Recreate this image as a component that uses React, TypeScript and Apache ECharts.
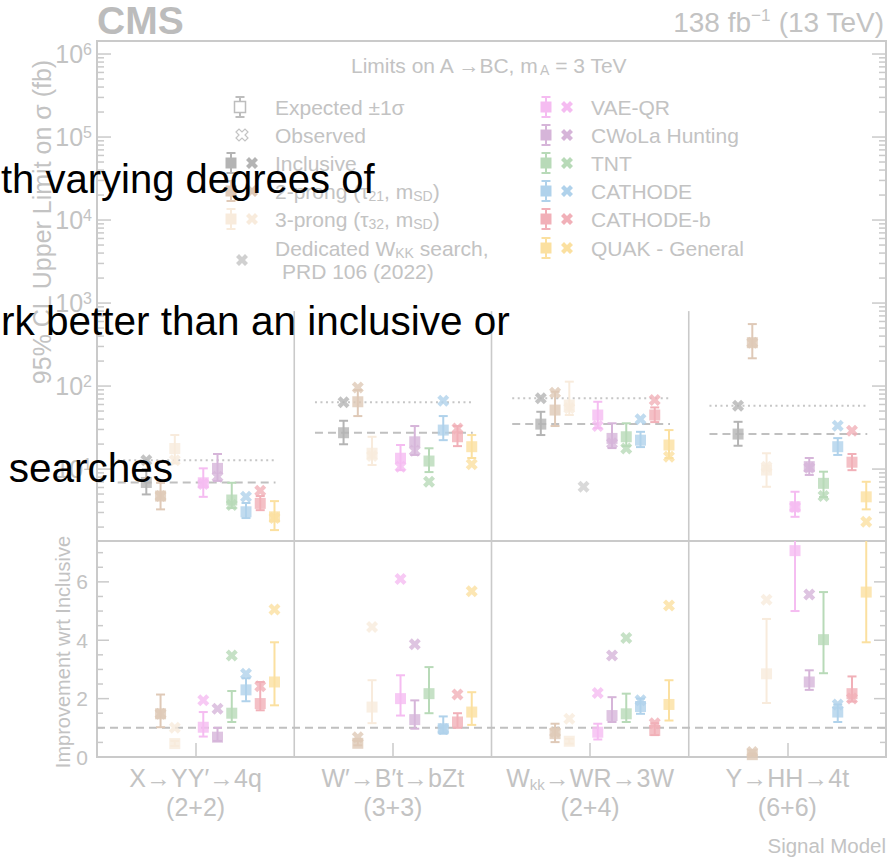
import { useEffect, useRef } from 'react';
import * as echarts from 'echarts';

const FONT = '"Liberation Sans", Arial, Helvetica, sans-serif';
const INK = '#c3c3c3';
const FRAME = '#cacaca';
const CMS_INK = '#bcbcbc';

const MODEL_LABELS = ['X→YY′→4q', 'W′→B′t→bZt', 'W_{kk}→WR→3W', 'Y→HH→4t'];
const MODEL_TOPOLOGY = ['(2+2)', '(3+3)', '(2+4)', '(6+6)'];

const METHOD_LABELS = [
  'Inclusive',
  '2-prong (τ_{21}, m_{SD})',
  '3-prong (τ_{32}, m_{SD})',
  'Dedicated W_{KK} search,',
  'VAE-QR',
  'CWoLa Hunting',
  'TNT',
  'CATHODE',
  'CATHODE-b',
  'QUAK - General',
];
const METHOD_COLORS = ['#b4b4b4', '#dfc9b7', '#f8ebdc', '#d0d0d0', '#f5bcf1', '#d6b5d9', '#b8dab8', '#b0d2eb', '#f1b0b8', '#fbe0a0'];

const _ = null;

// 95% CL upper limits on sigma (fb); rows follow METHOD_LABELS, columns MODEL_LABELS
const expectedLimit = [
  [6.9, 27.4, 34.8, 26.4],
  [4.73, 64.7, 51.4, 333],
  [17.7, 15.5, 59, 9.73],
  [_, _, _, _],
  [6.84, 13.5, 44.8, 3.52],
  [10.2, 21.3, 23.4, 10.7],
  [4.24, 12.5, 24.5, 6.73],
  [3.06, 29.5, 22.3, 18.6],
  [3.86, 24.5, 44.8, 12.1],
  [2.66, 18.6, 19.5, 4.63],
];
const expectedLimitLow = [
  [4.95, 19.9, 25.7, 19.1],
  [3.27, 43.5, 33, 216],
  [11.7, 11.2, 44.8, 6.12],
  [_, _, _, _],
  [4.63, 9.7, 31.2, 2.66],
  [7.2, 14.8, 17.9, 8.5],
  [3.39, 9.2, 18.9, 4.6],
  [2.57, 22.3, 18.4, 14.8],
  [3.2, 18.9, 36.8, 9.7],
  [1.84, 13.6, 13.6, 3.27],
];
const expectedLimitHigh = [
  [10.0, 38.2, 49, 37.1],
  [6.84, 89.5, 85.3, 558],
  [25.7, 24.5, 113, 15.5],
  [_, _, _, _],
  [10.2, 19.5, 64.7, 5.33],
  [15.2, 33, 35.6, 13.6],
  [6.84, 17.8, 35.6, 9.3],
  [3.9, 43.5, 28.1, 23.6],
  [4.73, 33, 55.3, 15.2],
  [4.11, 25.7, 29.5, 7.03],
];
const observedLimit = [
  [12.8, 63.7, 71.1, 57.9],
  [4.73, 96.4, 83, 333],
  [12.8, 14.4, 54, 10.7],
  [_, _, 6.12, _],
  [6.6, 10.7, 33, 3.5],
  [8.07, 16.6, 20.4, 10.4],
  [3.68, 7.03, 17.7, 4.73],
  [4.63, 66.5, 39.7, 33.3],
  [5.48, 30.9, 67.8, 28.9],
  [2.57, 11.4, 14.1, 2.32],
];

// Improvement with respect to the inclusive search
const expectedGain = [
  [_, _, _, _],
  [1.48, 0.47, 0.8, 0.08],
  [0.46, 1.71, 0.54, 2.85],
  [_, _, _, _],
  [1.02, 2.0, 0.85, 7.07],
  [0.68, 1.28, 1.42, 2.57],
  [1.5, 2.17, 1.48, 4.02],
  [2.3, 0.97, 1.73, 1.54],
  [1.83, 1.2, 0.91, 2.17],
  [2.57, 1.54, 1.8, 5.65],
];
const expectedGainLow = [
  [_, _, _, _],
  [1.02, 0.4, 0.51, 0.05],
  [0.38, 1.16, 0.46, 1.85],
  [_, _, _, _],
  [0.7, 1.42, 0.6, 5.0],
  [0.55, 0.97, 1.2, 2.3],
  [1.2, 1.5, 1.2, 2.87],
  [1.91, 0.8, 1.48, 1.2],
  [1.6, 1.0, 0.75, 1.9],
  [1.77, 1.1, 1.25, 3.93],
];
const expectedGainHigh = [
  [_, _, _, _],
  [2.14, 0.55, 1.14, 0.12],
  [0.55, 2.63, 0.62, 4.73],
  [_, _, _, _],
  [1.54, 2.8, 1.14, 8.5],
  [1.0, 1.94, 2.05, 2.97],
  [2.26, 3.08, 2.17, 5.65],
  [2.7, 1.39, 2.0, 1.8],
  [2.57, 1.5, 1.16, 2.76],
  [3.93, 2.22, 2.63, 8.5],
];
const observedGain = [
  [_, _, _, _],
  [1.48, 0.68, 0.86, 0.17],
  [1.0, 4.45, 1.31, 5.39],
  [_, _, _, _],
  [1.94, 6.1, 2.19, _],
  [1.65, 3.86, 3.48, 5.57],
  [3.48, _, 4.08, _],
  [2.85, 0.96, 1.94, 1.8],
  [2.42, 2.14, 1.16, 2.0],
  [5.05, 5.68, 5.19, _],
];

// axis extents
const LIMIT_MIN = 1.36;
const LIMIT_MAX = 1.435e6;
const GAIN_MAX = 7.4;
const SEPARATOR_TOP = 800;

// horizontal placement of the ten methods inside each signal-model bin
const SLOT_START = 0.25;
const SLOT_STEP = 0.0722;
const LINE_SPAN = [0.105, 0.905];

const CROSS_PTS = [[0, 2.5], [2.5, 0], [5, 2.5], [7.5, 0], [10, 2.5], [7.5, 5], [10, 7.5], [7.5, 10], [5, 7.5], [2.5, 10], [0, 7.5], [2.5, 5]];
const CROSS_SYMBOL = 'path://' + CROSS_PTS.map((p, i) => (i ? 'L' : 'M') + p[0] + ',' + p[1]).join('') + 'Z';

function toRich(s: string, main: string, sub: string, sup: string): string {
  const out: string[] = [];
  const re = /([_^])\{([^}]*)\}/g;
  let last = 0;
  let m: RegExpExecArray | null;
  while ((m = re.exec(s))) {
    if (m.index > last) out.push(`{${main}|${s.slice(last, m.index)}}`);
    out.push(`{${m[1] === '_' ? sub : sup}|${m[2]}}`);
    last = re.lastIndex;
  }
  if (last < s.length) out.push(`{${main}|${s.slice(last)}}`);
  return out.join('');
}

const slotX = (g: number, k: number) => g + SLOT_START + SLOT_STEP * k;

function tickItem(params: any, api: any) {
  const cs = params.coordSys;
  const y = api.coord([0, api.value(1)])[1];
  const len = api.value(2);
  const style = { stroke: FRAME, lineWidth: 1.5 };
  return {
    type: 'group',
    children: [
      { type: 'line', shape: { x1: cs.x, y1: y, x2: cs.x + len, y2: y }, style },
      { type: 'line', shape: { x1: cs.x + cs.width - len, y1: y, x2: cs.x + cs.width, y2: y }, style },
    ],
  };
}

function separatorItem(params: any, api: any) {
  const cs = params.coordSys;
  const top = api.coord([api.value(0), api.value(1)]);
  return {
    type: 'line',
    shape: { x1: top[0], y1: cs.y + cs.height, x2: top[0], y2: Math.max(cs.y, top[1]) },
    style: { stroke: FRAME, lineWidth: 1.6 },
  };
}

function refLineItem(params: any, api: any) {
  const a = api.coord([api.value(0), api.value(2)]);
  const b = api.coord([api.value(1), api.value(2)]);
  const dotted = api.value(3) === 1;
  return {
    type: 'line',
    shape: { x1: a[0], y1: a[1], x2: b[0], y2: b[1] },
    style: { stroke: dotted ? '#c6c6c6' : '#c0c0c0', lineWidth: 2, lineDash: dotted ? [2, 3.5] : [8, 5] },
  };
}

function errorBarItem(params: any, api: any) {
  const x = api.value(0);
  const lo = api.coord([x, api.value(1)]);
  const hi = api.coord([x, api.value(2)]);
  const color = METHOD_COLORS[api.value(3)];
  const w = 4.5;
  const style = { stroke: color, lineWidth: 2 };
  return {
    type: 'group',
    children: [
      { type: 'line', shape: { x1: lo[0], y1: lo[1], x2: hi[0], y2: hi[1] }, style },
      { type: 'line', shape: { x1: lo[0] - w, y1: lo[1], x2: lo[0] + w, y2: lo[1] }, style },
      { type: 'line', shape: { x1: hi[0] - w, y1: hi[1], x2: hi[0] + w, y2: hi[1] }, style },
    ],
  };
}

function panelSeries(
  xAxisIndex: number,
  yAxisIndex: number,
  exp: (number | null)[][],
  lo: (number | null)[][],
  hi: (number | null)[][],
  obs: (number | null)[][],
) {
  const bars: number[][] = [];
  const squares: any[] = [];
  const crosses: any[] = [];
  for (let k = 0; k < METHOD_LABELS.length; k++) {
    for (let g = 0; g < MODEL_LABELS.length; g++) {
      const x = slotX(g, k);
      const e = exp[k][g];
      if (e != null) {
        const l = lo[k][g];
        const h = hi[k][g];
        if (l != null && h != null) bars.push([x, l, h, k]);
        squares.push({ value: [x, e], itemStyle: { color: METHOD_COLORS[k] } });
      }
      const o = obs[k][g];
      if (o != null) crosses.push({ value: [x, o], itemStyle: { color: METHOD_COLORS[k] } });
    }
  }
  return [
    {
      type: 'custom', xAxisIndex, yAxisIndex, clip: true, z: 3, silent: true,
      renderItem: errorBarItem, encode: { x: 0, y: [1, 2] }, data: bars,
    },
    {
      type: 'scatter', xAxisIndex, yAxisIndex, z: 4, silent: true, clip: true,
      symbol: 'rect', symbolSize: 11, data: squares,
    },
    {
      type: 'scatter', xAxisIndex, yAxisIndex, z: 5, silent: true, clip: true,
      symbol: CROSS_SYMBOL, symbolSize: 12, data: crosses,
    },
  ];
}

function legendSquare(x: number, y: number, color: string, filled: boolean): any[] {
  const s = { stroke: color, lineWidth: 2 };
  return [
    { type: 'line', shape: { x1: x, y1: y - 10, x2: x, y2: y + 10 }, style: s },
    { type: 'line', shape: { x1: x - 4.5, y1: y - 10, x2: x + 4.5, y2: y - 10 }, style: s },
    { type: 'line', shape: { x1: x - 4.5, y1: y + 10, x2: x + 4.5, y2: y + 10 }, style: s },
    {
      type: 'rect',
      shape: { x: x - 5.5, y: y - 5.5, width: 11, height: 11 },
      style: filled ? { fill: color } : { fill: '#ffffff', stroke: color, lineWidth: 1.5 },
    },
  ];
}

function legendCross(x: number, y: number, color: string, filled: boolean): any {
  const size = 12;
  const points = CROSS_PTS.map(([px, py]) => [x - size / 2 + (px * size) / 10, y - size / 2 + (py * size) / 10]);
  return {
    type: 'polygon',
    shape: { points },
    style: filled ? { fill: color } : { fill: '#ffffff', stroke: color, lineWidth: 1.2 },
  };
}

const LEGEND_RICH = {
  n: { fontSize: 21, lineHeight: 24, fontFamily: FONT, fill: INK },
  s: { fontSize: 14, lineHeight: 14, fontFamily: FONT, fill: INK, verticalAlign: 'bottom' },
  p: { fontSize: 14, lineHeight: 14, fontFamily: FONT, fill: INK, verticalAlign: 'top' },
};

function legendText(x: number, y: number, label: string): any {
  return {
    type: 'text', x, y,
    style: { text: toRich(label, 'n', 's', 'p'), rich: LEGEND_RICH, align: 'left', verticalAlign: 'middle' },
  };
}

function buildOption(): any {
  const upperTicks: number[][] = [];
  for (let e = 0; e <= 6; e++) {
    for (let m = 1; m <= 9; m++) {
      const v = m * Math.pow(10, e);
      if (v >= LIMIT_MIN && v <= LIMIT_MAX) upperTicks.push([0, v, m === 1 ? 14 : 7]);
    }
  }
  const lowerTicks: number[][] = [];
  for (let i = 0; i * 0.5 <= GAIN_MAX; i++) lowerTicks.push([0, i * 0.5, i % 4 === 0 ? 12 : 6]);

  const inclusiveLines: number[][] = [];
  for (let g = 0; g < MODEL_LABELS.length; g++) {
    inclusiveLines.push([g + LINE_SPAN[0], g + LINE_SPAN[1], expectedLimit[0][g] as number, 0]);
    inclusiveLines.push([g + LINE_SPAN[0], g + LINE_SPAN[1], observedLimit[0][g] as number, 1]);
  }
  const boundaries = [1, 2, 3];

  // legend
  const legend: any[] = [];
  const rowsY = [107, 135, 163, 191, 219, 248];
  legend.push(...legendSquare(240, rowsY[0], '#bdbdbd', false));
  legend.push(legendText(275, rowsY[0], 'Expected ±1σ'));
  legend.push(legendCross(242, rowsY[1], '#c4c4c4', false));
  legend.push(legendText(275, rowsY[1], 'Observed'));
  for (let k = 0; k < 3; k++) {
    legend.push(...legendSquare(231, rowsY[2 + k], METHOD_COLORS[k], true));
    legend.push(legendCross(252, rowsY[2 + k], METHOD_COLORS[k], true));
    legend.push(legendText(275, rowsY[2 + k], METHOD_LABELS[k]));
  }
  legend.push(legendCross(242, 260, METHOD_COLORS[3], true));
  legend.push(legendText(275, rowsY[5], METHOD_LABELS[3]));
  legend.push(legendText(282, 271, 'PRD 106 (2022)'));
  for (let k = 4; k < METHOD_LABELS.length; k++) {
    const y = rowsY[k - 4];
    legend.push(...legendSquare(546, y, METHOD_COLORS[k], true));
    legend.push(legendCross(567, y, METHOD_COLORS[k], true));
    legend.push(legendText(591, y, METHOD_LABELS[k]));
  }

  const overlayStyle = { fill: '#000000', fontSize: 40.5, fontFamily: FONT, verticalAlign: 'middle' };

  return {
    animation: false,
    backgroundColor: '#ffffff',
    grid: [
      { left: 97, top: 41, width: 789, height: 500, show: true, borderColor: FRAME, borderWidth: 2, backgroundColor: 'transparent' },
      { left: 97, top: 541, width: 789, height: 216, show: true, borderColor: FRAME, borderWidth: 2, backgroundColor: 'transparent' },
    ],
    xAxis: [
      { type: 'value', gridIndex: 0, min: 0, max: 4, show: false },
      { type: 'value', gridIndex: 1, min: 0, max: 4, show: false },
      {
        type: 'category', gridIndex: 1, data: MODEL_LABELS, position: 'bottom',
        axisLine: { show: false },
        axisTick: { show: true, inside: true, alignWithLabel: true, length: 14, lineStyle: { color: FRAME, width: 1.5 } },
        splitLine: { show: false },
        axisLabel: {
          margin: 6,
          formatter: (_v: string, i: number) =>
            toRich(MODEL_LABELS[i], 't', 'ts', 'tp') + '\n' + `{t|${MODEL_TOPOLOGY[i]}}`,
          rich: {
            t: { fontSize: 25, lineHeight: 29, fontFamily: FONT, color: INK },
            ts: { fontSize: 15, lineHeight: 15, fontFamily: FONT, color: INK, verticalAlign: 'bottom' },
            tp: { fontSize: 15, lineHeight: 15, fontFamily: FONT, color: INK, verticalAlign: 'top' },
          },
        },
      },
    ],
    yAxis: [
      {
        type: 'log', logBase: 10, gridIndex: 0, min: LIMIT_MIN, max: LIMIT_MAX,
        axisLine: { show: false }, axisTick: { show: false }, splitLine: { show: false },
        axisLabel: {
          margin: 5,
          formatter: (v: number) => {
            const e = Math.log10(v);
            if (Math.abs(e - Math.round(e)) > 1e-6) return '';
            return `{b|10}{s|${Math.round(e)}}`;
          },
          rich: {
            b: { fontSize: 25, lineHeight: 26, fontFamily: FONT, color: INK },
            s: { fontSize: 16, lineHeight: 16, fontFamily: FONT, color: INK, verticalAlign: 'top' },
          },
        },
      },
      {
        type: 'value', gridIndex: 1, min: 0, max: GAIN_MAX, interval: 2,
        axisLine: { show: false }, axisTick: { show: false }, splitLine: { show: false },
        axisLabel: {
          margin: 9, fontSize: 21, fontFamily: FONT, color: INK,
          formatter: (v: number) => (Math.abs(v % 2) < 1e-9 && v <= 6 ? String(v) : ''),
        },
      },
    ],
    series: [
      { type: 'custom', xAxisIndex: 0, yAxisIndex: 0, z: 1, silent: true, renderItem: tickItem, encode: { x: 0, y: 1 }, data: upperTicks },
      { type: 'custom', xAxisIndex: 1, yAxisIndex: 1, z: 1, silent: true, renderItem: tickItem, encode: { x: 0, y: 1 }, data: lowerTicks },
      {
        type: 'custom', xAxisIndex: 0, yAxisIndex: 0, z: 1, silent: true, renderItem: separatorItem,
        encode: { x: 0, y: 1 }, data: boundaries.map((b) => [b, SEPARATOR_TOP]),
      },
      {
        type: 'custom', xAxisIndex: 1, yAxisIndex: 1, z: 1, silent: true, renderItem: separatorItem,
        encode: { x: 0, y: 1 }, data: boundaries.map((b) => [b, GAIN_MAX]),
      },
      {
        type: 'custom', xAxisIndex: 0, yAxisIndex: 0, z: 2, silent: true, renderItem: refLineItem,
        encode: { x: [0, 1], y: 2 }, data: inclusiveLines,
      },
      {
        type: 'custom', xAxisIndex: 1, yAxisIndex: 1, z: 2, silent: true, renderItem: refLineItem,
        encode: { x: [0, 1], y: 2 }, data: [[0, 4, 1, 0]],
      },
      ...panelSeries(0, 0, expectedLimit, expectedLimitLow, expectedLimitHigh, observedLimit),
      ...panelSeries(1, 1, expectedGain, expectedGainLow, expectedGainHigh, observedGain),
    ],
    graphic: [
      {
        type: 'text', x: 97, y: 20,
        style: { text: 'CMS', fontSize: 39, fontWeight: 'bold', fontFamily: FONT, fill: CMS_INK, align: 'left', verticalAlign: 'middle' },
      },
      {
        type: 'text', x: 884, y: 22,
        style: {
          text: '{a|138 fb}{p|−1}{a| (13 TeV)}', align: 'right', verticalAlign: 'middle',
          rich: {
            a: { fontSize: 28, lineHeight: 30, fontFamily: FONT, fill: INK },
            p: { fontSize: 17, lineHeight: 17, fontFamily: FONT, fill: INK, verticalAlign: 'top' },
          },
        },
      },
      {
        type: 'text', x: 351, y: 65,
        style: {
          text: toRich('Limits on A →BC, m_{A} = 3 TeV', 'n', 's', 'p'), align: 'left', verticalAlign: 'middle',
          rich: {
            n: { fontSize: 21, lineHeight: 24, fontFamily: FONT, fill: INK },
            s: { fontSize: 14, lineHeight: 14, fontFamily: FONT, fill: INK, verticalAlign: 'bottom' },
          },
        },
      },
      ...legend,
      {
        type: 'text', x: 42, y: 222, rotation: Math.PI / 2,
        style: { text: '95% CL Upper Limit on σ (fb)', fontSize: 25, fontFamily: FONT, fill: INK, align: 'center', verticalAlign: 'middle' },
      },
      {
        type: 'text', x: 63, y: 652, rotation: Math.PI / 2,
        style: { text: 'Improvement wrt Inclusive', fontSize: 20, fontFamily: FONT, fill: INK, align: 'center', verticalAlign: 'middle' },
      },
      {
        type: 'text', x: 886, y: 845,
        style: { text: 'Signal Model', fontSize: 20.5, fontFamily: FONT, fill: INK, align: 'right', verticalAlign: 'middle' },
      },
      { type: 'text', x: 1, y: 179, z: 100, style: { ...overlayStyle, fontSize: 40, align: 'left', text: 'th varying degrees of' } },
      { type: 'text', x: 1, y: 321, z: 100, style: { ...overlayStyle, align: 'left', text: 'rk better than an inclusive or' } },
      { type: 'text', x: 173, y: 468, z: 100, style: { ...overlayStyle, align: 'right', text: 'searches' } },
    ],
  };
}

export default function App() {
  const ref = useRef<HTMLDivElement>(null);
  useEffect(() => {
    if (!ref.current) return;
    const chart = echarts.init(ref.current, undefined, { renderer: 'svg' });
    chart.setOption(buildOption());
    return () => chart.dispose();
  }, []);
  return (
    <div
      ref={ref}
      style={{ position: 'fixed', left: 0, top: 0, width: 888, height: 861, background: '#ffffff' }}
    />
  );
}
